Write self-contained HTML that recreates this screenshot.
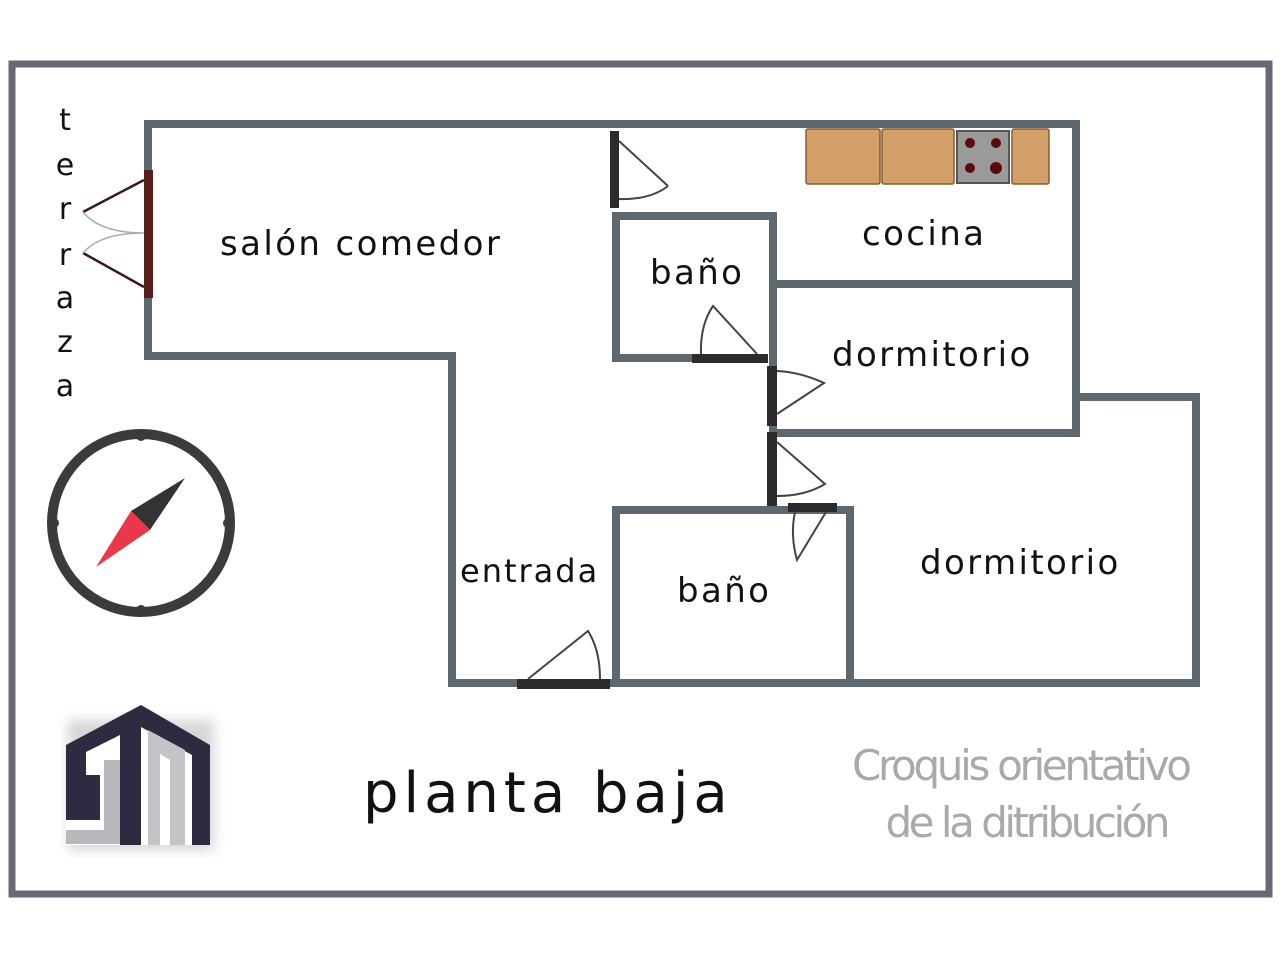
<!DOCTYPE html>
<html><head><meta charset="utf-8"><style>
body{margin:0;background:#fff;width:1280px;height:960px;overflow:hidden}
svg text{font-family:"DejaVu Sans","Liberation Sans",sans-serif}
</style></head><body>
<svg width="1280" height="960" viewBox="0 0 1280 960" xmlns="http://www.w3.org/2000/svg">
<defs><filter id="sh" x="-30%" y="-30%" width="160%" height="160%"><feGaussianBlur stdDeviation="6"/></filter></defs>
<rect x="12" y="64" width="1257" height="830" fill="none" stroke="#676976" stroke-width="7"/>
<g stroke="#5d6870" stroke-width="8" fill="none" stroke-linecap="square">
<polyline points="148,124 1076,124 1076,433"/>
<polyline points="148,124 148,356 452,356 452,683 1196,683 1196,397 1076,397"/>
<polyline points="616,358 616,216 773,216 773,505"/>
<line x1="616" y1="358" x2="700" y2="358"/>
<line x1="775" y1="284" x2="1076" y2="284"/>
<line x1="775" y1="433" x2="1076" y2="433"/>
<polyline points="616,683 616,510 850,510 850,683"/>
</g>
<rect x="144" y="170" width="9" height="128" fill="#5a1d1a"/>
<g stroke="#3a1a18" stroke-width="2.5" fill="none"><path d="M144,180 L83,212 M144,287 L83,253"/>
<path d="M83,212 Q100,233 144,233 Q100,233 83,253" stroke="#aaa" stroke-width="1.5"/></g>
<g fill="#2b2a2c">
<rect x="610" y="131" width="9" height="77"/>
<rect x="692" y="354" width="76" height="9"/>
<rect x="767" y="366" width="10" height="60"/>
<rect x="767" y="432" width="10" height="74"/>
<rect x="788" y="503" width="49" height="9"/>
<rect x="517" y="679" width="93" height="10"/>
</g>
<g stroke="#444" stroke-width="2" fill="none">
<path d="M619,141 L668,186 M668,186 Q650,200 619,199" />
<path d="M757,354 L713,306 Q700,325 701,354"/>
<path d="M777,414 L824,383 Q800,372 777,371"/>
<path d="M777,442 L825,484 Q805,496 777,496"/>
<path d="M826,512 L797,560 Q790,535 795,512"/>
<path d="M528,679 L588,631 Q600,650 600,679"/>
</g>
<g fill="#d4a06a" stroke="#8a5a30" stroke-width="1.5">
<rect x="806" y="129" width="74" height="55" rx="2"/>
<rect x="882" y="129" width="72" height="55" rx="2"/>
<rect x="1012" y="129" width="37" height="55" rx="2"/>
</g>
<rect x="957" y="131" width="52" height="52" fill="#9a9a9a" stroke="#555" stroke-width="2"/>
<g fill="#5a0c0c"><circle cx="970" cy="143" r="5"/><circle cx="996" cy="143" r="5"/><circle cx="970" cy="168" r="5"/><circle cx="996" cy="168" r="6"/></g>
<g fill="#111" font-size="34" letter-spacing="2.4">
<text x="220" y="255">salón comedor</text>
<text x="862" y="245">cocina</text>
<text x="650" y="284">baño</text>
<text x="832" y="366">dormitorio</text>
<text x="920" y="574">dormitorio</text>
<text x="460" y="582" font-size="32" letter-spacing="2">entrada</text>
<text x="677" y="602">baño</text>
</g>
<g fill="#111" font-size="30" text-anchor="middle">
<text x="65" y="130">t</text><text x="65" y="175">e</text><text x="65" y="219">r</text><text x="65" y="265">r</text><text x="65" y="308">a</text><text x="65" y="352">z</text><text x="65" y="396">a</text>
</g>
<text x="363" y="812" font-size="56" letter-spacing="5" fill="#111">planta baja</text>
<g fill="#a9a9a9" font-family="Liberation Sans Narrow,Liberation Sans,sans-serif" font-size="42" text-anchor="middle">
<text x="1022" y="780" textLength="340">Croquis orientativo</text>
<text x="1028" y="837" textLength="285">de la ditribución</text>
</g>
<circle cx="141" cy="523" r="89" fill="none" stroke="#3b3b3b" stroke-width="10"/>
<g fill="#3b3b3b"><circle cx="141" cy="436" r="5"/><circle cx="141" cy="610" r="5"/><circle cx="54" cy="523" r="5"/><circle cx="228" cy="523" r="5"/></g>
<polygon points="185,478 131,511 150,530" fill="#333"/>
<polygon points="96,567 131,511 150,530" fill="#e8384a"/>
<!-- logo -->
<g>
<rect x="68" y="720" width="146" height="130" fill="#bbb" filter="url(#sh)" opacity="0.6"/>
<path d="M66,745 L141,705 L210,745 L210,845 L66,845 Z" fill="#fff"/>
<path d="M66,745 L141,705 L210,745 L210,845 L192,845 L192,755 L141,727 L141,845 L120,845 L120,735 L86,752 L86,775 L100,775 L100,820 L66,820 Z" fill="#2c2b40"/>
<path d="M84,778 L104,778 L104,828 L66,828 L66,845 L120,845 L120,730 Z" fill="none"/>
<rect x="104" y="760" width="16" height="70" fill="#b8b8bc"/>
<rect x="66" y="830" width="54" height="14" fill="#b8b8bc"/>
<path d="M148,730 L185,750 L185,845 L170,845 L170,760 L160,754 L160,845 L148,845 Z" fill="#c4c4c8"/>
</g>
</svg>
</body></html>
